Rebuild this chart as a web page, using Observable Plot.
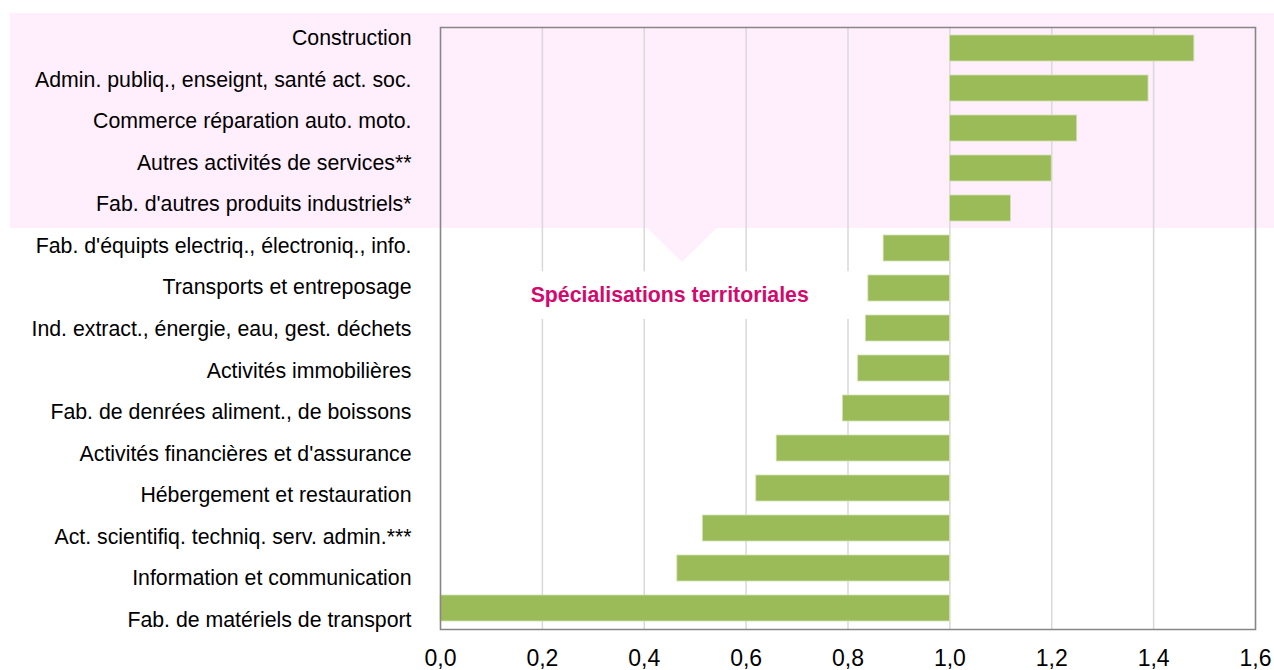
<!DOCTYPE html>
<html><head><meta charset="utf-8">
<script src="https://cdn.jsdelivr.net/npm/d3@7"></script>
<script src="https://cdn.jsdelivr.net/npm/@observablehq/plot@0.6"></script>
<style>body{margin:0;background:#fff;}</style>
</head><body><div id="chart"></div>
<script>
const categories = [
  "Construction",
  "Admin. publiq., enseignt, santé act. soc.",
  "Commerce réparation auto. moto.",
  "Autres activités de services**",
  "Fab. d'autres produits industriels*",
  "Fab. d'équipts electriq., électroniq., info.",
  "Transports et entreposage",
  "Ind. extract., énergie, eau, gest. déchets",
  "Activités immobilières",
  "Fab. de denrées aliment., de boissons",
  "Activités financières et d'assurance",
  "Hébergement et restauration",
  "Act. scientifiq. techniq. serv. admin.***",
  "Information et communication",
  "Fab. de matériels de transport"
];
const values = [1.48, 1.39, 1.25, 1.20, 1.12, 0.87, 0.84, 0.835, 0.82, 0.79, 0.66, 0.62, 0.515, 0.465, 0.0];
const xTicks = [0, 0.2, 0.4, 0.6, 0.8, 1.0, 1.2, 1.4, 1.6];
const baseline = 1.0;
const highlightedCount = 5;
const calloutText = "Spécialisations territoriales";
const calloutRow = categories[6];

const data = categories.map((c, i) => ({category: c, value: values[i]}));
const fmt = d => d.toFixed(1).replace(".", ",");

// category labels are spread a little wider than the bars (as in the source)
const labelMarks = categories.map((c, i) =>
  Plot.text([c], {y: d => d, text: d => d, frameAnchor: "left", dx: -29, textAnchor: "end",
    fontSize: 21.3, fill: "#000", dy: -9.9 + i * 1.51}));

const plot = Plot.plot({
  width: 1274, height: 670,
  marginLeft: 440, marginRight: 19, marginTop: 27, marginBottom: 41,
  style: {fontFamily: "'Liberation Sans', Arial, sans-serif", fontSize: "20px", color: "#000", background: "transparent"},
  x: {domain: [0, 1.6]},
  y: {domain: categories, paddingInner: 0.34, paddingOuter: 0.17, axis: null},
  marks: [
    Plot.gridX(xTicks, {stroke: "#d9d9d9", strokeOpacity: 1, strokeWidth: 1.5}),
    Plot.barX(data, {y: "category", x1: baseline, x2: "value", fill: "#9bbb59", stroke: "#d3e2b3", strokeWidth: 0.8}),
    Plot.barX([calloutRow], {y: d => d, x1: 0.157, x2: 0.803, fill: "#fff", insetTop: -3.6, insetBottom: -17.9}),
    Plot.frame({stroke: "#868686", strokeWidth: 1.5}),
    Plot.axisX({ticks: xTicks, tickFormat: fmt, tickSize: 0, tickPadding: 20, fontSize: 23, label: null, fill: "#000"}),
    ...labelMarks,
    Plot.text([calloutText], {x: () => 0.45, y: () => calloutRow, dy: 7, text: d => d, fill: "#d20a6e", fontWeight: "bold", fontSize: 21.3})
  ]
});
document.getElementById("chart").append(plot);

// Pink highlight band + pointer, positioned from the scales
const svg = d3.select(plot);
const xs = plot.scale("x");
const ys = plot.scale("y");
const gap = ys.step - ys.bandwidth;
const slotTop = c => ys.apply(c) - gap / 2;
const pinkTop = slotTop(categories[0]) - 15;
const pinkBottom = slotTop(categories[highlightedCount - 1]) + ys.step;
const pink = "#ffeefc";

const deco = svg.insert("g", ":first-child");
deco.append("rect").attr("x", 10).attr("y", pinkTop).attr("width", 1274 - 10).attr("height", pinkBottom - pinkTop).attr("fill", pink);
const tipX = xs.apply(0.475);
deco.append("path").attr("d", `M${tipX - 35},${pinkBottom - 0.5}L${tipX + 35},${pinkBottom - 0.5}L${tipX},${pinkBottom + 34}Z`).attr("fill", pink);
</script>
</body></html>
